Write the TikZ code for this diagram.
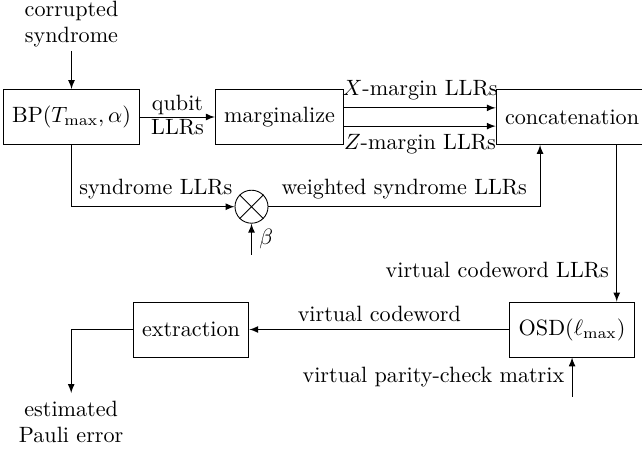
\documentclass[tikz,border=0pt]{standalone}
\usepackage{amsmath}
\usetikzlibrary{arrows}

\begin{document}
\begin{tikzpicture}[>=latex,
		block/.style={draw, minimum height=0.873cm, inner xsep=4pt},
		mult/.style={draw, circle, minimum size=0.524cm, inner sep=0pt},
		tight/.style={inner sep=0.8pt}]
	\useasboundingbox (0,0) rectangle (10.19,7.222);
	\node [block] (bp) at (1.135,5.365) {BP$(T_{\max},\alpha)$};
	\node [block] (marg) at (4.437,5.365) {marginalize};
	\node [block] (concat) at (9.08,5.365) {concatenation};
	\node [mult] (mul) at (3.992,3.941) {};
	\draw (mul.north west) -- (mul.south east) (mul.north east) -- (mul.south west);
	\node [block] (osd) at (9.08,1.992) {OSD$(\ell_{\max})$};
	\node [block] (ext) at (3.032,1.992) {extraction};
	\node [align=center, anchor=south, inner sep=1.5pt] (in) at (1.135,6.413) {corrupted\\syndrome};
	\node [align=center, anchor=north] (out) at (1.13,0.984) {estimated\\Pauli error};
	\coordinate (beta) at (3.992,3.175);
	\coordinate (pcm) at (9.08,0.921);
	\draw [->] (in) -- (bp);
	\draw [->] (bp) -- node [tight, above] {qubit} node [tight, below] {LLRs} (marg);
	\draw [->] ([yshift=0.145cm]marg.east) -- node [above] {$X$-margin LLRs} ([yshift=0.145cm]concat.west);
	\draw [->] ([yshift=-0.145cm]marg.east) -- node [below] {$Z$-margin LLRs} ([yshift=-0.145cm]concat.west);
	\draw [->] (bp.south) |- node [pos=0.5, above right] {syndrome LLRs} (mul.west);
	\draw [->] (mul.east) -| node [pos=0.25, above] {weighted syndrome LLRs} ([xshift=-0.508cm]concat.south);
	\draw [->] (beta) -- node [right] {$\beta$} (mul);
	% codeword path down the right side
	\draw [->] ([xshift=0.709cm]concat.south) -- node [pos=0.8, left] {virtual codeword LLRs} ([xshift=0.709cm]osd.north);
	\draw [->] (pcm) -- node [left] {virtual parity-check matrix} (osd);
	\draw [->] (osd) -- node [above] {virtual codeword} (ext);
	\draw [->] (ext.west) -| (out);
\end{tikzpicture}
\end{document}
